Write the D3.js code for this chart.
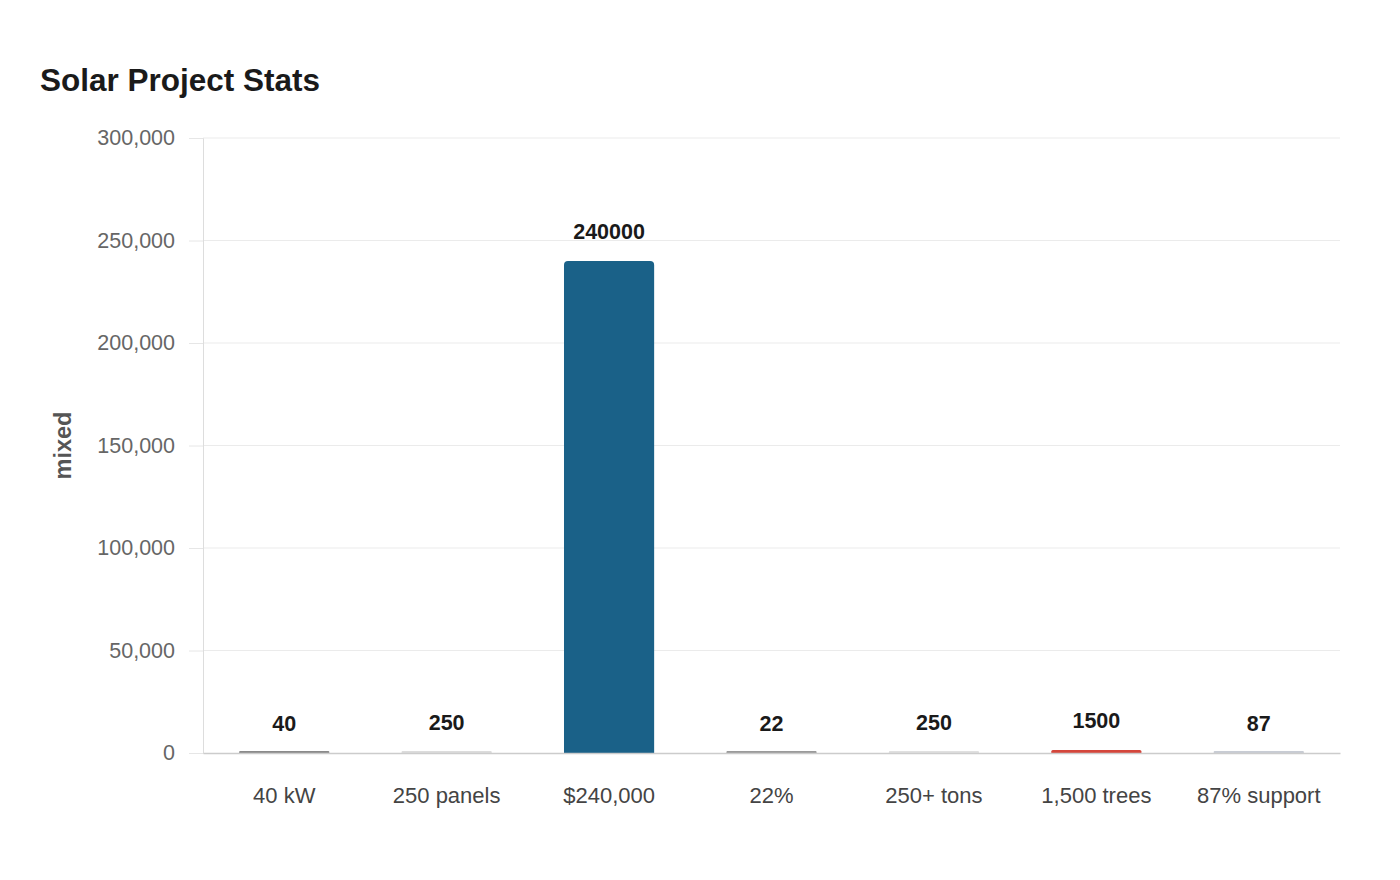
<!DOCTYPE html>
<html>
<head>
<meta charset="utf-8">
<script src="https://cdn.jsdelivr.net/npm/d3@7"></script>
<style>
  body { margin: 0; background: #fff; }
  svg { font-family: "Liberation Sans", Arial, sans-serif; }
</style>
</head>
<body>
<div class="canvas"></div>
<script>
const categories = ["40 kW", "250 panels", "$240,000", "22%", "250+ tons", "1,500 trees", "87% support"];
const values = [40, 250, 240000, 22, 250, 1500, 87];
const barColors = ["#8a8a8a", "#dcdcdc", "#1a6188", "#9a9a9a", "#e0e0e0", "#d4463b", "#c8ccd4"];
const yTicks = [0, 50000, 100000, 150000, 200000, 250000, 300000];

const width = 1400;
const height = 880;
const margin = {top: 138, right: 60, bottom: 127, left: 203};

const svg = d3.select(".canvas").append("svg")
  .attr("width", width)
  .attr("height", height);

const x = d3.scaleBand()
  .domain(categories)
  .range([margin.left, width - margin.right])
  .paddingInner(0.445)
  .paddingOuter(0.2225);

const y = d3.scaleLinear()
  .domain([0, 300000])
  .range([height - margin.bottom, margin.top]);

// title
svg.append("text")
  .attr("x", 40)
  .attr("y", 91)
  .attr("font-size", 31.5)
  .attr("font-weight", "bold")
  .attr("fill", "#1a1a1a")
  .text("Solar Project Stats");

// gridlines
svg.append("g")
  .selectAll("line")
  .data(yTicks.slice(1))
  .join("line")
  .attr("x1", margin.left)
  .attr("x2", width - margin.right)
  .attr("y1", d => y(d))
  .attr("y2", d => y(d))
  .attr("stroke", "#ebebeb")
  .attr("stroke-width", 1);

// y axis
const yAxis = svg.append("g")
  .attr("transform", `translate(${margin.left},0)`)
  .call(d3.axisLeft(y).tickValues(yTicks).tickFormat(d3.format(",")).tickSize(14).tickPadding(14));
yAxis.select(".domain").attr("stroke", "#dddddd");
yAxis.selectAll(".tick line").attr("stroke", "#e6e6e6");
yAxis.selectAll(".tick text")
  .attr("font-size", 21.5)
  .attr("fill", "#666")
  .attr("font-family", "Liberation Sans, Arial, sans-serif");

// y axis label
svg.append("text")
  .attr("transform", `translate(71,${(margin.top + height - margin.bottom) / 2}) rotate(-90)`)
  .attr("text-anchor", "middle")
  .attr("font-size", 23.5)
  .attr("font-weight", "bold")
  .attr("fill", "#555")
  .text("mixed");

// bars with rounded tops (tiny values kept visible as a thin line)
const r = 4;
svg.append("g")
  .selectAll("path")
  .data(values)
  .join("path")
  .attr("fill", (d, i) => barColors[i])
  .attr("d", (d, i) => {
    const x0 = x(categories[i]);
    const w = x.bandwidth();
    const y0 = y(0);
    const y1 = Math.min(y(d), y0 - 2);
    const rr = Math.min(r, (y0 - y1) / 2, w / 2);
    return `M${x0},${y0} L${x0},${y1 + rr} Q${x0},${y1} ${x0 + rr},${y1} L${x0 + w - rr},${y1} Q${x0 + w},${y1} ${x0 + w},${y1 + rr} L${x0 + w},${y0} Z`;
  });

// x axis
const xAxis = svg.append("g")
  .attr("transform", `translate(0,${height - margin.bottom})`)
  .call(d3.axisBottom(x).tickSize(0).tickPadding(34));
xAxis.select(".domain").attr("stroke", "#cccccc").attr("stroke-width", 1.5);
xAxis.selectAll(".tick text")
  .attr("font-size", 22)
  .attr("fill", "#444")
  .attr("font-family", "Liberation Sans, Arial, sans-serif");

// value labels
svg.append("g")
  .selectAll("text")
  .data(values)
  .join("text")
  .attr("x", (d, i) => x(categories[i]) + x.bandwidth() / 2)
  .attr("y", d => y(d) - 22)
  .attr("text-anchor", "middle")
  .attr("font-size", 21.5)
  .attr("font-weight", "bold")
  .attr("fill", "#1a1a1a")
  .text(d => d);
</script>
</body>
</html>
